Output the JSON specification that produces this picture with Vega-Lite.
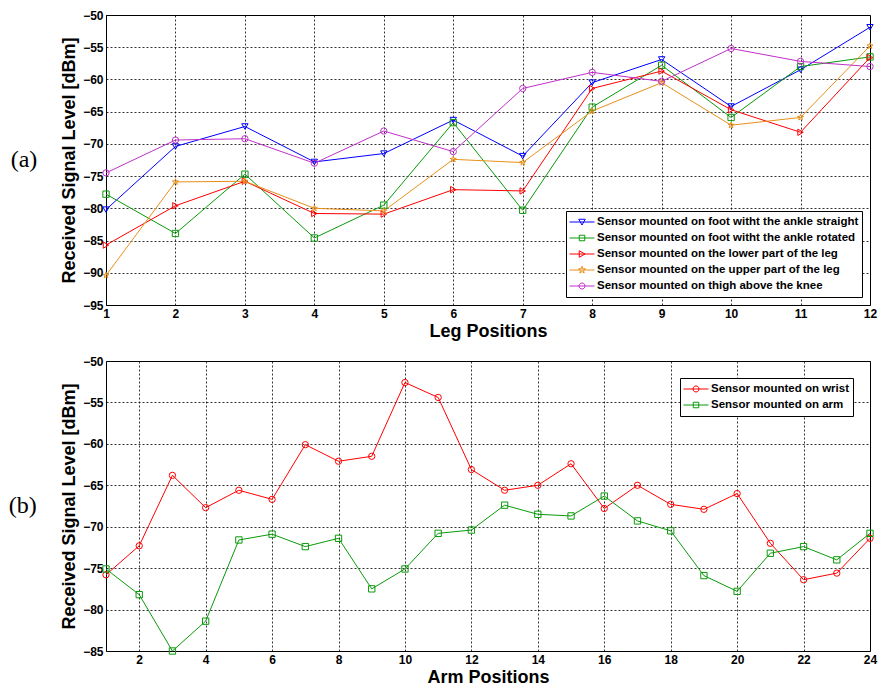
{
  "$schema": "https://vega.github.io/schema/vega-lite/v6.json",
  "background": "white",
  "padding": {"left": 8, "top": 8, "right": 6, "bottom": 2},
  "spacing": 13,
  "config": {
    "view": {"stroke": "#000", "strokeWidth": 1},
    "font": "Liberation Sans",
    "axis": {
      "labelFont": "Liberation Sans", "labelFontWeight": "bold", "labelFontSize": 12, "labelColor": "#000",
      "titleFont": "Liberation Sans", "titleFontWeight": "bold", "titleColor": "#000",
      "domain": false, "tickColor": "#000", "tickSize": 0, "labelPadding": 3,
      "grid": true, "gridColor": "#000", "gridDash": [2, 2], "gridOpacity": 0.8, "gridWidth": 1
    },
    "legend": {
      "labelFont": "Liberation Sans", "labelFontWeight": "bold", "labelFontSize": 11.5, "labelColor": "#000", "labelLimit": 0,
      "strokeColor": "#000", "fillColor": "white", "padding": 3, "symbolSize": 625, "clipHeight": 16,
      "symbolStrokeWidth": 1, "labelOffset": 2, "rowPadding": 0, "title": null
    },
    "title": {"font": "Liberation Serif", "fontSize": 24, "fontWeight": "normal", "color": "#000"}
  },
  "datasets": {
    "leg": [
      {"pos": 1, "series": "Sensor mounted on foot witht the ankle straight", "value": -80.2},
      {"pos": 2, "series": "Sensor mounted on foot witht the ankle straight", "value": -70.4},
      {"pos": 3, "series": "Sensor mounted on foot witht the ankle straight", "value": -67.3},
      {"pos": 4, "series": "Sensor mounted on foot witht the ankle straight", "value": -72.8},
      {"pos": 5, "series": "Sensor mounted on foot witht the ankle straight", "value": -71.5},
      {"pos": 6, "series": "Sensor mounted on foot witht the ankle straight", "value": -66.3},
      {"pos": 7, "series": "Sensor mounted on foot witht the ankle straight", "value": -71.9},
      {"pos": 8, "series": "Sensor mounted on foot witht the ankle straight", "value": -60.5},
      {"pos": 9, "series": "Sensor mounted on foot witht the ankle straight", "value": -56.9},
      {"pos": 10, "series": "Sensor mounted on foot witht the ankle straight", "value": -64.2},
      {"pos": 11, "series": "Sensor mounted on foot witht the ankle straight", "value": -58.5},
      {"pos": 12, "series": "Sensor mounted on foot witht the ankle straight", "value": -51.9},
      {"pos": 1, "series": "Sensor mounted on foot witht the ankle rotated", "value": -77.8},
      {"pos": 2, "series": "Sensor mounted on foot witht the ankle rotated", "value": -83.9},
      {"pos": 3, "series": "Sensor mounted on foot witht the ankle rotated", "value": -74.7},
      {"pos": 4, "series": "Sensor mounted on foot witht the ankle rotated", "value": -84.6},
      {"pos": 5, "series": "Sensor mounted on foot witht the ankle rotated", "value": -79.5},
      {"pos": 6, "series": "Sensor mounted on foot witht the ankle rotated", "value": -66.7},
      {"pos": 7, "series": "Sensor mounted on foot witht the ankle rotated", "value": -80.3},
      {"pos": 8, "series": "Sensor mounted on foot witht the ankle rotated", "value": -64.3},
      {"pos": 9, "series": "Sensor mounted on foot witht the ankle rotated", "value": -57.8},
      {"pos": 10, "series": "Sensor mounted on foot witht the ankle rotated", "value": -65.9},
      {"pos": 11, "series": "Sensor mounted on foot witht the ankle rotated", "value": -58.0},
      {"pos": 12, "series": "Sensor mounted on foot witht the ankle rotated", "value": -56.5},
      {"pos": 1, "series": "Sensor mounted on the lower part of the leg", "value": -85.7},
      {"pos": 2, "series": "Sensor mounted on the lower part of the leg", "value": -79.6},
      {"pos": 3, "series": "Sensor mounted on the lower part of the leg", "value": -75.8},
      {"pos": 4, "series": "Sensor mounted on the lower part of the leg", "value": -80.8},
      {"pos": 5, "series": "Sensor mounted on the lower part of the leg", "value": -80.9},
      {"pos": 6, "series": "Sensor mounted on the lower part of the leg", "value": -77.1},
      {"pos": 7, "series": "Sensor mounted on the lower part of the leg", "value": -77.3},
      {"pos": 8, "series": "Sensor mounted on the lower part of the leg", "value": -61.4},
      {"pos": 9, "series": "Sensor mounted on the lower part of the leg", "value": -58.7},
      {"pos": 10, "series": "Sensor mounted on the lower part of the leg", "value": -64.7},
      {"pos": 11, "series": "Sensor mounted on the lower part of the leg", "value": -68.2},
      {"pos": 12, "series": "Sensor mounted on the lower part of the leg", "value": -56.6},
      {"pos": 1, "series": "Sensor mounted on the upper part of the leg", "value": -90.4},
      {"pos": 2, "series": "Sensor mounted on the upper part of the leg", "value": -75.9},
      {"pos": 3, "series": "Sensor mounted on the upper part of the leg", "value": -75.8},
      {"pos": 4, "series": "Sensor mounted on the upper part of the leg", "value": -80.0},
      {"pos": 5, "series": "Sensor mounted on the upper part of the leg", "value": -80.4},
      {"pos": 6, "series": "Sensor mounted on the upper part of the leg", "value": -72.4},
      {"pos": 7, "series": "Sensor mounted on the upper part of the leg", "value": -72.9},
      {"pos": 8, "series": "Sensor mounted on the upper part of the leg", "value": -64.9},
      {"pos": 9, "series": "Sensor mounted on the upper part of the leg", "value": -60.5},
      {"pos": 10, "series": "Sensor mounted on the upper part of the leg", "value": -67.1},
      {"pos": 11, "series": "Sensor mounted on the upper part of the leg", "value": -65.9},
      {"pos": 12, "series": "Sensor mounted on the upper part of the leg", "value": -54.8},
      {"pos": 1, "series": "Sensor mounted on thigh above the knee", "value": -74.5},
      {"pos": 2, "series": "Sensor mounted on thigh above the knee", "value": -69.4},
      {"pos": 3, "series": "Sensor mounted on thigh above the knee", "value": -69.2},
      {"pos": 4, "series": "Sensor mounted on thigh above the knee", "value": -73.0},
      {"pos": 5, "series": "Sensor mounted on thigh above the knee", "value": -68.0},
      {"pos": 6, "series": "Sensor mounted on thigh above the knee", "value": -71.2},
      {"pos": 7, "series": "Sensor mounted on thigh above the knee", "value": -61.4},
      {"pos": 8, "series": "Sensor mounted on thigh above the knee", "value": -58.9},
      {"pos": 9, "series": "Sensor mounted on thigh above the knee", "value": -60.3},
      {"pos": 10, "series": "Sensor mounted on thigh above the knee", "value": -55.2},
      {"pos": 11, "series": "Sensor mounted on thigh above the knee", "value": -57.2},
      {"pos": 12, "series": "Sensor mounted on thigh above the knee", "value": -58.0}
    ],
    "arm": [
      {"pos": 1, "series": "Sensor mounted on wrist", "value": -75.8},
      {"pos": 2, "series": "Sensor mounted on wrist", "value": -72.3},
      {"pos": 3, "series": "Sensor mounted on wrist", "value": -63.8},
      {"pos": 4, "series": "Sensor mounted on wrist", "value": -67.7},
      {"pos": 5, "series": "Sensor mounted on wrist", "value": -65.6},
      {"pos": 6, "series": "Sensor mounted on wrist", "value": -66.7},
      {"pos": 7, "series": "Sensor mounted on wrist", "value": -60.1},
      {"pos": 8, "series": "Sensor mounted on wrist", "value": -62.1},
      {"pos": 9, "series": "Sensor mounted on wrist", "value": -61.5},
      {"pos": 10, "series": "Sensor mounted on wrist", "value": -52.6},
      {"pos": 11, "series": "Sensor mounted on wrist", "value": -54.4},
      {"pos": 12, "series": "Sensor mounted on wrist", "value": -63.1},
      {"pos": 13, "series": "Sensor mounted on wrist", "value": -65.6},
      {"pos": 14, "series": "Sensor mounted on wrist", "value": -65.0},
      {"pos": 15, "series": "Sensor mounted on wrist", "value": -62.4},
      {"pos": 16, "series": "Sensor mounted on wrist", "value": -67.8},
      {"pos": 17, "series": "Sensor mounted on wrist", "value": -65.0},
      {"pos": 18, "series": "Sensor mounted on wrist", "value": -67.3},
      {"pos": 19, "series": "Sensor mounted on wrist", "value": -67.9},
      {"pos": 20, "series": "Sensor mounted on wrist", "value": -66.0},
      {"pos": 21, "series": "Sensor mounted on wrist", "value": -72.0},
      {"pos": 22, "series": "Sensor mounted on wrist", "value": -76.4},
      {"pos": 23, "series": "Sensor mounted on wrist", "value": -75.6},
      {"pos": 24, "series": "Sensor mounted on wrist", "value": -71.4},
      {"pos": 1, "series": "Sensor mounted on arm", "value": -75.1},
      {"pos": 2, "series": "Sensor mounted on arm", "value": -78.2},
      {"pos": 3, "series": "Sensor mounted on arm", "value": -85.0},
      {"pos": 4, "series": "Sensor mounted on arm", "value": -81.4},
      {"pos": 5, "series": "Sensor mounted on arm", "value": -71.6},
      {"pos": 6, "series": "Sensor mounted on arm", "value": -70.9},
      {"pos": 7, "series": "Sensor mounted on arm", "value": -72.4},
      {"pos": 8, "series": "Sensor mounted on arm", "value": -71.4},
      {"pos": 9, "series": "Sensor mounted on arm", "value": -77.5},
      {"pos": 10, "series": "Sensor mounted on arm", "value": -75.1},
      {"pos": 11, "series": "Sensor mounted on arm", "value": -70.8},
      {"pos": 12, "series": "Sensor mounted on arm", "value": -70.4},
      {"pos": 13, "series": "Sensor mounted on arm", "value": -67.4},
      {"pos": 14, "series": "Sensor mounted on arm", "value": -68.5},
      {"pos": 15, "series": "Sensor mounted on arm", "value": -68.7},
      {"pos": 16, "series": "Sensor mounted on arm", "value": -66.3},
      {"pos": 17, "series": "Sensor mounted on arm", "value": -69.3},
      {"pos": 18, "series": "Sensor mounted on arm", "value": -70.5},
      {"pos": 19, "series": "Sensor mounted on arm", "value": -75.9},
      {"pos": 20, "series": "Sensor mounted on arm", "value": -77.8},
      {"pos": 21, "series": "Sensor mounted on arm", "value": -73.2},
      {"pos": 22, "series": "Sensor mounted on arm", "value": -72.4},
      {"pos": 23, "series": "Sensor mounted on arm", "value": -74.0},
      {"pos": 24, "series": "Sensor mounted on arm", "value": -70.8}
    ]
  },
  "vconcat": [
    {
      "width": 764,
      "height": 290,
      "title": {"text": "(a)", "orient": "left", "angle": 0, "anchor": "middle", "baseline": "middle", "offset": 10},
      "data": {"name": "leg"},
      "encoding": {
        "x": {"field": "pos", "type": "quantitative", "scale": {"domain": [1, 12], "nice": false, "zero": false},
              "axis": {"values": [1,2,3,4,5,6,7,8,9,10,11,12], "title": "Leg Positions", "titleFontSize": 18, "titlePadding": 3, "labelFlush": false}},
        "y": {"field": "value", "type": "quantitative", "scale": {"domain": [-95, -50], "nice": false, "zero": false},
              "axis": {"values": [-95,-90,-85,-80,-75,-70,-65,-60,-55,-50], "title": "Received Signal Level [dBm]", "titleFontSize": 18, "titlePadding": 4}},
        "color": {"field": "series", "type": "nominal",
                  "scale": {"domain": ["Sensor mounted on foot witht the ankle straight", "Sensor mounted on foot witht the ankle rotated", "Sensor mounted on the lower part of the leg", "Sensor mounted on the upper part of the leg", "Sensor mounted on thigh above the knee"],
                            "range": ["#0000ff", "#0a9a0a", "#ff0000", "#e8901a", "#c030c8"]},
                  "legend": {"orient": "bottom-right", "offset": 8,
                    "encode": {"symbols": {"update": {
                      "fill": {"value": "transparent"},
                      "strokeWidth": {"value": 1},
                      "stroke": {"signal": "['#0000ff','#0a9a0a','#ff0000','#e8901a','#c030c8'][indexof(['Sensor mounted on foot witht the ankle straight','Sensor mounted on foot witht the ankle rotated','Sensor mounted on the lower part of the leg','Sensor mounted on the upper part of the leg','Sensor mounted on thigh above the knee'], datum.value)]"},
                      "shape": {"signal": "['M-1,0L1,0M-0.26,-0.22L0.26,-0.22L0,0.24Z','M-1,0L1,0M-0.22,-0.22L0.22,-0.22L0.22,0.22L-0.22,0.22Z','M-1,0L1,0M-0.22,-0.26L0.24,0L-0.22,0.26Z','M-1,0L1,0M0,-0.3L0.07,-0.097L0.285,-0.093L0.114,0.037L0.176,0.243L0,0.12L-0.176,0.243L-0.114,0.037L-0.285,-0.093L-0.07,-0.097Z','M-1,0L1,0M-0.24,0A0.24,0.24,0,1,0,0.24,0A0.24,0.24,0,1,0,-0.24,0'][indexof(['Sensor mounted on foot witht the ankle straight','Sensor mounted on foot witht the ankle rotated','Sensor mounted on the lower part of the leg','Sensor mounted on the upper part of the leg','Sensor mounted on thigh above the knee'], datum.value)]"}}}}}}
      },
      "layer": [
        {"mark": {"type": "line", "strokeWidth": 1}},
        {"mark": {"type": "point", "filled": false, "size": 40, "strokeWidth": 1, "opacity": 1},
         "encoding": {
           "shape": {"field": "series", "type": "nominal",
                     "scale": {"domain": ["Sensor mounted on thigh above the knee", "Sensor mounted on the upper part of the leg", "Sensor mounted on the lower part of the leg", "Sensor mounted on foot witht the ankle rotated", "Sensor mounted on foot witht the ankle straight"],
                               "range": ["circle", "M0,-1L0.235,-0.324L0.951,-0.309L0.38,0.124L0.588,0.809L0,0.4L-0.588,0.809L-0.38,0.124L-0.951,-0.309L-0.235,-0.324Z", "triangle-right", "square", "triangle-down"]},
                     "legend": null}
         }}
      ]
    },
    {
      "width": 764,
      "height": 290,
      "title": {"text": "(b)", "orient": "left", "angle": 0, "anchor": "middle", "baseline": "middle", "offset": 10},
      "data": {"name": "arm"},
      "encoding": {
        "x": {"field": "pos", "type": "quantitative", "scale": {"domain": [1, 24], "nice": false, "zero": false},
              "axis": {"values": [2,4,6,8,10,12,14,16,18,20,22,24], "title": "Arm Positions", "titleFontSize": 18, "titlePadding": 3, "labelFlush": false}},
        "y": {"field": "value", "type": "quantitative", "scale": {"domain": [-85, -50], "nice": false, "zero": false},
              "axis": {"values": [-85,-80,-75,-70,-65,-60,-55,-50], "title": "Received Signal Level [dBm]", "titleFontSize": 18, "titlePadding": 4}},
        "color": {"field": "series", "type": "nominal",
                  "scale": {"domain": ["Sensor mounted on wrist", "Sensor mounted on arm"], "range": ["#ff0000", "#0a9a0a"]},
                  "legend": {"orient": "top-right", "offset": 17,
                    "encode": {"symbols": {"update": {
                      "fill": {"value": "transparent"},
                      "strokeWidth": {"value": 1},
                      "stroke": {"signal": "['#ff0000','#0a9a0a'][indexof(['Sensor mounted on wrist','Sensor mounted on arm'], datum.value)]"},
                      "shape": {"signal": "['M-1,0L1,0M-0.24,0A0.24,0.24,0,1,0,0.24,0A0.24,0.24,0,1,0,-0.24,0','M-1,0L1,0M-0.22,-0.22L0.22,-0.22L0.22,0.22L-0.22,0.22Z'][indexof(['Sensor mounted on wrist','Sensor mounted on arm'], datum.value)]"}}}}}}
      },
      "layer": [
        {"mark": {"type": "line", "strokeWidth": 1}},
        {"mark": {"type": "point", "filled": false, "size": 40, "strokeWidth": 1, "opacity": 1},
         "encoding": {
           "shape": {"field": "series", "type": "nominal",
                     "scale": {"domain": ["Sensor mounted on arm", "Sensor mounted on wrist"], "range": ["square", "circle"]},
                     "legend": null}
         }}
      ]
    }
  ],
  "resolve": {"scale": {"color": "independent", "shape": "independent"}, "legend": {"color": "independent", "shape": "independent"}}
}
